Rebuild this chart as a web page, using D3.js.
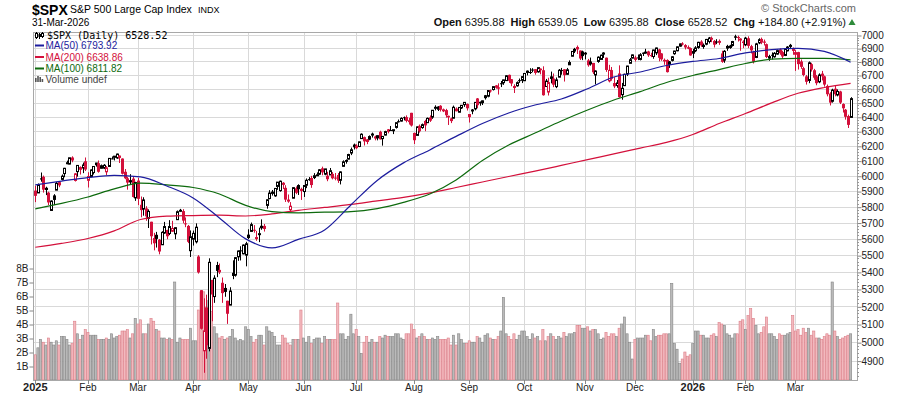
<!DOCTYPE html>
<html>
<head>
<meta charset="utf-8">
<script src="https://cdn.jsdelivr.net/npm/d3@7/dist/d3.min.js"></script>
<style>
  body { margin: 0; background: #fff; }
  #chart text { font-family: Arial, "Liberation Sans", sans-serif; }
</style>
</head>
<body>
<svg id="chart"></svg>
<script>
// month ticks along the bottom (index of first trading day of each month)
const monthLabels = ["2025", "Feb", "Mar", "Apr", "May", "Jun", "Jul", "Aug", "Sep", "Oct", "Nov", "Dec", "2026", "Feb", "Mar"];
const monthStarts = [0, 20, 39, 60, 81, 102, 122, 144, 165, 186, 209, 228, 250, 270, 289];

const priceTicks = [4900, 5000, 5100, 5200, 5300, 5400, 5500, 5600, 5700, 5800, 5900, 6000, 6100, 6200, 6300, 6400, 6500, 6600, 6700, 6800, 6900, 7000];
const volTicks = [1, 2, 3, 4, 5, 6, 7, 8];

const prevClose = 5882;

// daily candles, 2 Jan 2025 .. 31 Mar 2026
const opens = [
  5903,5888,5983,5993,5910,5890,5776,5872,5906,5958,5976,6014,6082,6077,6121,5969,6027,6057,6051,6096,
  5970,5995,6021,6073,6083,6049,6050,6026,6061,6115,6122,6118,6134,6114,6026,5983,5971,5981,5856,
  5968,5812,5785,5789,5726,5705,5604,5624,5594,5563,5635,5654,5632,5646,5630,5718,5776,5772,5695,5679,5527,
  5597,5581,5492,5293,4953,5193,4966,5353,5256,5441,5412,5336,5306,5232,5207,5395,5381,5490,5529,5508,5500,
  5625,5645,5655,5606,5630,5680,5679,5808,5852,5885,5869,5930,5903,5954,5921,5841,5781,5854,5918,5939,5904,
  5897,5938,5978,5985,5988,6005,6010,6049,6010,6000,6005,6012,5988,6005,5970,6062,6104,6110,6151,6193,
  6187,6195,6249,6259,6244,6245,6274,6256,6254,6296,6249,6273,6313,6308,6307,6326,6369,6370,6397,6398,6376,6428,
  6288,6271,6337,6325,6371,6359,6396,6398,6461,6453,6478,6446,6447,6407,6389,6390,6458,6432,6463,6486,6490,
  6401,6446,6456,6530,6506,6500,6553,6546,6588,6594,6624,6610,6640,6644,6659,6701,6669,6620,6621,6662,6661,
  6658,6732,6722,6740,6743,6723,6747,6735,6616,6576,6690,6674,6615,6684,6736,6742,6705,6775,6839,6878,6909,6882,6875,
  6866,6808,6782,6789,6700,6800,6815,6867,6828,6657,6736,6641,6623,6711,6557,6622,6707,6786,6825,
  6830,6830,6815,6866,6867,6875,6848,6837,6864,6890,6860,6812,6811,6800,6808,6858,6880,6915,6935,6923,6907,6900,
  6878,6880,6905,6950,6912,6930,6950,6978,6955,6950,6955,6860,6810,6900,6905,6920,6990,6985,6965,6950,
  6925,6975,6915,6870,6830,6940,6970,6950,6930,6825,6850,6835,6855,6890,6870,6845,6880,6925,6900,
  6870,6870,6800,6750,6690,6660,6780,6735,6690,6650,6710,6690,6620,6565,6510,6600,6555,6580,6490,6450,6405,6395.88
];
const highs = [
  5935,5949,6021,6001,5928,5896,5840,5880,5960,5962,6008,6052,6100,6119,6129,6018,6070,6062,6087,6121,
  6023,6042,6063,6085,6101,6074,6077,6064,6116,6128,6130,6147,6134,6115,6044,5993,6010,5993,5960,
  5986,5865,5860,5803,5783,5705,5636,5642,5598,5646,5704,5655,5715,5711,5670,5776,5786,5784,5732,5685,5651,
  5650,5695,5500,5293,5246,5267,5481,5353,5380,5460,5450,5367,5329,5232,5310,5469,5489,5528,5554,5565,5581,
  5658,5700,5684,5648,5668,5720,5691,5847,5906,5907,5920,5959,5968,5958,5938,5878,5829,5924,5930,5944,5922,
  5937,5982,5991,5999,6017,6022,6044,6060,6045,6026,6051,6024,6018,6018,6029,6102,6108,6146,6188,6215,
  6211,6228,6285,6263,6246,6271,6290,6269,6272,6303,6267,6303,6315,6336,6310,6360,6381,6396,6402,6410,6393,6428,
  6290,6332,6346,6353,6379,6395,6410,6446,6481,6475,6482,6458,6456,6408,6394,6479,6466,6469,6482,6502,6494,
  6416,6455,6502,6533,6508,6515,6555,6587,6593,6616,6627,6639,6656,6666,6699,6703,6670,6632,6653,6674,6690,
  6714,6733,6750,6750,6744,6754,6748,6764,6671,6680,6725,6711,6682,6744,6752,6743,6752,6808,6876,6902,6920,6882,6881,
  6870,6819,6829,6789,6734,6838,6851,6869,6829,6775,6759,6684,6663,6771,6642,6710,6768,6826,6852,
  6843,6852,6862,6867,6895,6880,6865,6888,6904,6895,6862,6822,6816,6803,6840,6880,6912,6935,6945,6930,6920,6905,
  6895,6915,6948,6960,6935,6970,6985,6988,6962,6968,6966,6880,6885,6925,6925,6955,7002,6995,6975,6960,
  6985,6990,6925,6880,6940,6975,6980,6965,6935,6850,6868,6870,6890,6898,6880,6895,6915,6932,6905,
  6885,6872,6815,6760,6700,6800,6790,6745,6700,6712,6730,6695,6630,6575,6600,6620,6595,6585,6495,6455,6415,6539.05
];
const lows = [
  5829,5888,5961,5890,5874,5810,5773,5810,5906,5925,5969,5990,6076,6075,6089,5962,5994,6008,6017,6031,
  5923,5990,6008,6060,6020,6048,6044,6004,6059,6109,6101,6112,6084,6008,5977,5909,5944,5858,5837,
  5810,5733,5743,5711,5666,5565,5529,5546,5505,5563,5630,5597,5622,5641,5597,5718,5766,5695,5671,5573,5489,
  5558,5571,5390,5070,4835,4910,4950,5116,5220,5369,5387,5220,5255,5101,5207,5357,5372,5466,5468,5505,5433,
  5598,5643,5637,5587,5579,5655,5644,5787,5847,5871,5863,5908,5896,5913,5830,5825,5767,5854,5880,5875,5843,
  5862,5919,5967,5921,5978,6000,6004,6003,6003,5964,6005,5976,5970,5953,5943,6060,6080,6108,6137,6175,
  6177,6191,6249,6202,6211,6238,6256,6237,6237,6243,6201,6271,6285,6303,6280,6318,6360,6367,6375,6361,6346,6332,
  6212,6271,6290,6317,6300,6359,6364,6386,6445,6441,6437,6433,6394,6343,6356,6389,6438,6432,6455,6470,6444,
  6360,6418,6445,6460,6478,6483,6522,6538,6572,6587,6600,6558,6612,6628,6657,6642,6618,6569,6615,6642,6641,
  6657,6697,6707,6720,6702,6717,6705,6550,6612,6551,6639,6611,6604,6683,6702,6652,6702,6774,6838,6863,6856,6811,6810,
  6815,6761,6769,6707,6631,6790,6813,6826,6723,6646,6658,6604,6607,6535,6521,6620,6692,6786,6823,
  6799,6810,6808,6841,6858,6834,6832,6820,6848,6801,6805,6775,6718,6752,6800,6850,6876,6910,6920,6890,6892,6843,
  6825,6870,6895,6910,6895,6922,6935,6945,6905,6930,6925,6790,6790,6880,6895,6912,6960,6950,6880,6900,
  6915,6900,6860,6785,6825,6930,6930,6920,6825,6805,6815,6828,6850,6850,6820,6840,6875,6898,6850,
  6730,6740,6745,6690,6630,6640,6725,6665,6625,6640,6660,6615,6545,6480,6500,6545,6545,6490,6430,6380,6322,6395.88
];
const closes = [
  5869,5942,5975,5909,5918,5827,5836,5843,5950,5937,5997,6049,6086,6119,6101,6012,6068,6039,6071,6041,
  5995,6038,6061,6084,6026,6066,6069,6052,6115,6115,6130,6144,6118,6013,5983,5955,5956,5862,5955,
  5850,5778,5843,5739,5770,5615,5572,5599,5522,5639,5675,5615,5675,5663,5668,5768,5777,5712,5693,5581,5612,
  5633,5671,5397,5074,5062,4983,5457,5268,5363,5406,5397,5276,5283,5158,5288,5376,5485,5525,5529,5561,5569,
  5604,5687,5650,5607,5631,5664,5660,5844,5887,5893,5917,5958,5964,5940,5845,5842,5803,5922,5889,5912,5911,
  5936,5970,5971,5939,6000,6006,6039,6022,6045,5977,6033,5983,5981,5968,6025,6092,6092,6141,6173,6205,
  6198,6227,6279,6230,6226,6263,6280,6260,6269,6244,6264,6297,6296,6306,6310,6359,6363,6389,6390,6371,6363,6339,
  6238,6330,6299,6345,6340,6389,6373,6446,6467,6469,6450,6449,6411,6396,6370,6467,6439,6466,6481,6502,6460,
  6416,6448,6502,6482,6495,6513,6532,6587,6584,6615,6607,6600,6632,6664,6694,6657,6638,6605,6644,6661,6688,
  6711,6715,6716,6740,6715,6754,6735,6553,6655,6644,6671,6629,6664,6735,6736,6699,6738,6792,6875,6891,6890,6822,6840,
  6852,6772,6796,6720,6729,6832,6847,6851,6737,6734,6672,6617,6642,6539,6603,6705,6766,6813,6849,
  6812,6829,6850,6857,6870,6846,6840,6886,6901,6827,6816,6800,6721,6775,6835,6878,6910,6932,6930,6905,6896,6845,
  6858,6902,6944,6921,6921,6966,6977,6964,6926,6944,6940,6797,6876,6913,6916,6950,6979,6978,6969,6939,
  6976,6917,6883,6798,6932,6964,6942,6941,6833,6836,6843,6861,6881,6862,6837,6891,6908,6909,6879,
  6850,6780,6760,6700,6650,6790,6740,6680,6640,6700,6690,6630,6560,6500,6590,6560,6580,6500,6460,6400,6343.72,6528.52
];
// volume in billions of shares
const volumes = [
  1.8,2.3,2.9,2.7,2.5,3.0,2.7,2.5,2.8,2.5,3.1,3.1,2.9,2.5,2.6,4.2,3.3,2.9,3.2,3.6,
  3.4,3.2,3.2,3.2,2.9,2.9,2.9,3.0,2.9,3.3,3.0,3.1,3.2,3.5,3.5,3.6,3.0,3.3,4.4,
  4.0,4.3,3.3,3.3,4.0,4.4,4.2,3.6,3.5,3.0,3.0,2.9,3.0,2.9,7.0,2.7,3.0,2.9,2.9,2.9,3.7,
  2.8,2.8,5.0,6.3,6.3,5.2,5.7,4.9,3.8,3.3,3.0,3.1,2.9,3.0,3.1,3.6,3.0,2.8,2.9,2.8,3.8,
  3.6,3.1,2.7,2.9,3.2,3.2,2.5,3.8,3.5,3.4,3.1,2.5,2.5,3.2,3.0,2.6,2.5,2.9,2.9,2.9,5.0,
  3.0,2.7,3.1,2.6,2.9,3.0,3.0,2.6,3.1,2.9,2.9,2.9,2.9,5.5,3.3,3.3,2.9,3.1,4.7,3.3,
  3.6,3.1,1.9,2.7,3.1,2.7,2.9,2.7,2.7,3.1,3.0,3.2,3.1,3.1,3.1,3.3,3.3,3.0,2.9,3.3,3.3,4.0,
  3.6,3.0,3.1,3.3,3.1,2.9,2.9,3.0,2.9,3.1,2.9,2.9,2.9,3.0,2.5,3.2,2.5,3.3,2.9,2.6,2.6,
  2.8,2.7,2.7,3.1,3.0,2.7,3.2,3.3,3.0,2.9,2.9,3.1,3.5,5.9,3.3,3.1,2.9,3.3,2.9,3.2,3.5,
  3.5,3.1,2.9,3.3,3.0,3.1,2.8,3.6,2.8,3.1,3.3,3.1,2.9,3.1,3.0,3.4,3.1,3.3,3.3,3.4,3.9,3.9,3.7,
  3.7,3.8,3.5,3.6,3.6,3.3,2.9,3.0,3.4,3.1,3.3,3.3,3.1,3.7,4.0,4.5,3.3,2.7,1.5,
  2.9,3.0,3.0,3.0,3.2,3.2,2.8,3.6,3.1,3.2,3.2,3.3,3.3,3.3,6.9,2.6,2.2,1.2,1.5,2.0,1.7,1.8,
  2.6,3.5,3.5,3.2,3.2,3.0,3.0,3.2,3.3,3.1,4.1,4.0,3.9,3.3,3.2,3.0,3.3,3.3,4.2,4.3,
  3.6,4.6,5.1,4.4,3.9,3.3,3.4,3.8,4.5,3.3,3.3,3.1,2.9,3.3,3.2,3.2,3.3,3.4,4.6,
  3.5,3.6,3.2,3.7,3.4,3.7,3.2,3.5,3.0,3.0,2.9,3.1,3.3,3.2,7.0,3.5,3.1,2.9,3.0,3.1,3.2,3.3
];

// moving averages
const maIdx = [0,10,20,30,40,50,60,70,80,90,100,110,120,130,140,150,160,170,180,190,200,210,220,230,240,250,260,270,280,290,300,310];
const ma50 = [5940,5965,5988,6002,5992,5933,5856,5729,5599,5544,5596,5654,5811,5969,6085,6172,6264,6353,6427,6483,6526,6600,6685,6722,6770,6800,6822,6864,6889,6898,6875,6794];
const ma100 = [5786,5821,5862,5914,5951,5940,5923,5881,5808,5769,5761,5765,5769,5788,5827,5881,5972,6101,6205,6287,6371,6448,6519,6579,6645,6696,6740,6785,6817,6823,6823,6812];
const ma200 = [5548,5571,5601,5648,5719,5740,5744,5746,5741,5754,5777,5795,5814,5837,5859,5888,5923,5959,5995,6030,6068,6107,6145,6184,6223,6277,6353,6423,6498,6567,6609,6639];

const quoteLabels = ["Open", "High", "Low", "Close", "Chg"];
const quoteValues = ["6395.88", "6539.05", "6395.88", "6528.52", "+184.80 (+2.91%)"];

const chartSize = {width: 900, height: 396};
const plot = {left: 33, right: 857, top: 32, bottom: 380};

const red = "#d3103b", blue = "#1c1c9e", green = "#0d6a0d", grid = "#d9d9d9";

const x = d3.scaleLinear().domain([0, 310]).range([35.3, 850.6]);
const y = d3.scaleLog().domain([4797, 7023]).range([plot.bottom, plot.top]);
const yVol = d3.scaleLinear().domain([0, 8]).range([plot.bottom, 268]);

const svg = d3.select("#chart")
  .attr("width", chartSize.width)
  .attr("height", chartSize.height);

svg.append("rect").attr("width", chartSize.width).attr("height", chartSize.height).attr("fill", "#fff");

const days = closes.map((c, i) => ({
  i, o: opens[i], h: highs[i], l: lows[i], c, v: volumes[i],
  up: c >= (i ? closes[i - 1] : prevClose)
}));

// grid
const g = svg.append("g");
g.selectAll(".hgrid").data(priceTicks).join("line")
  .attr("x1", plot.left).attr("x2", plot.right)
  .attr("y1", d => Math.round(y(d)) + 0.5).attr("y2", d => Math.round(y(d)) + 0.5)
  .attr("stroke", grid);
g.selectAll(".vgrid").data(monthStarts).join("line")
  .attr("x1", d => Math.round(x(d)) + 0.5).attr("x2", d => Math.round(x(d)) + 0.5)
  .attr("y1", plot.top).attr("y2", plot.bottom)
  .attr("stroke", grid);

// volume
g.selectAll(".vol").data(days).join("rect")
  .attr("x", d => x(d.i) - 1.1)
  .attr("width", 2.2)
  .attr("y", d => yVol(d.v))
  .attr("height", d => plot.bottom - yVol(d.v))
  .attr("fill", d => d.up ? "#bababa" : "#f2b9be")
  .attr("stroke", d => d.up ? "#858585" : "#dc7e88")
  .attr("stroke-width", 0.6);

// candles
const cx = d => Math.round(x(d.i));
g.selectAll(".wick").data(days).join("line")
  .attr("x1", d => cx(d) + 0.5).attr("x2", d => cx(d) + 0.5)
  .attr("y1", d => y(d.h)).attr("y2", d => y(d.l))
  .attr("stroke", d => d.up ? "#000" : red)
  .attr("stroke-width", 1);

g.selectAll(".body").data(days).join("rect")
  .attr("x", d => d.c > d.o ? cx(d) - 0.5 : cx(d) - 1)
  .attr("width", d => d.c > d.o ? 2 : 3)
  .attr("y", d => y(Math.max(d.o, d.c)))
  .attr("height", d => Math.max(1, y(Math.min(d.o, d.c)) - y(Math.max(d.o, d.c))))
  .attr("fill", d => d.c > d.o ? "#fff" : (d.up ? "#000" : red))
  .attr("stroke", d => d.c > d.o ? (d.up ? "#000" : red) : "none")
  .attr("stroke-width", 1);

// moving averages
const maLine = d3.line()
  .x(d => x(d[0]))
  .y(d => y(d[1]))
  .curve(d3.curveMonotoneX);

[[ma200, red], [ma100, green], [ma50, blue]].forEach(([vals, col]) => {
  g.append("path")
    .attr("d", maLine(maIdx.map((k, j) => [k, vals[j]])))
    .attr("fill", "none")
    .attr("stroke", col)
    .attr("stroke-width", 1.2);
});

// frame
svg.append("rect")
  .attr("x", plot.left + 0.5).attr("y", plot.top + 0.5)
  .attr("width", plot.right - plot.left).attr("height", plot.bottom - plot.top)
  .attr("fill", "none").attr("stroke", "#a8a8a8");

// right price axis
const yAxis = d3.axisRight(y).tickValues(priceTicks).tickSize(4).tickFormat(d3.format("d"));
const ya = svg.append("g")
  .attr("transform", `translate(${plot.right + 0.5},0.5)`)
  .call(yAxis);
ya.select(".domain").remove();
ya.selectAll("line").attr("stroke", "#888");
ya.selectAll("text").attr("x", 4).attr("fill", "#222").style("font-size", "10px");

const minorTicks = d3.range(4820, 7020, 20).filter(v => v % 100 !== 0);
svg.append("g").selectAll("line").data(minorTicks).join("line")
  .attr("x1", plot.right).attr("x2", plot.right + 2)
  .attr("y1", d => Math.round(y(d)) + 0.5).attr("y2", d => Math.round(y(d)) + 0.5)
  .attr("stroke", "#999");

// left volume axis
const vAxis = d3.axisLeft(yVol).tickValues(volTicks).tickSize(4).tickFormat(d => d + "B");
const va = svg.append("g")
  .attr("transform", `translate(${plot.left + 0.5},0.5)`)
  .call(vAxis);
va.select(".domain").remove();
va.selectAll("line").attr("stroke", "#888");
va.selectAll("text").attr("x", -5).attr("fill", "#222").style("font-size", "10px");

// bottom month axis
const xa = svg.append("g");
xa.selectAll("line").data(monthStarts).join("line")
  .attr("x1", d => Math.round(x(d)) + 0.5).attr("x2", d => Math.round(x(d)) + 0.5)
  .attr("y1", plot.bottom).attr("y2", plot.bottom + 4)
  .attr("stroke", "#888");
xa.selectAll("text").data(monthStarts).join("text")
  .attr("x", d => x(d))
  .attr("y", 391)
  .attr("text-anchor", "middle")
  .style("font-size", (d, k) => monthLabels[k].length === 4 ? "11px" : "10px")
  .style("font-weight", (d, k) => monthLabels[k].length === 4 ? "bold" : "normal")
  .attr("fill", "#222")
  .text((d, k) => monthLabels[k]);

// header
svg.append("text").attr("x", 32).attr("y", 14.5)
  .style("font-size", "14px").style("font-weight", "bold").text("$SPX");
svg.append("text").attr("x", 70).attr("y", 12.5)
  .style("font-size", "10.5px").text("S&P 500 Large Cap Index");
svg.append("text").attr("x", 198).attr("y", 12.5)
  .style("font-size", "9px").text("INDX");
svg.append("text").attr("x", 32).attr("y", 25.5)
  .style("font-size", "10px").text("31-Mar-2026");

const quote = svg.append("text")
  .attr("x", 846).attr("y", 26)
  .attr("text-anchor", "end")
  .style("font-size", "11px").attr("fill", "#111");
quoteLabels.forEach((lab, k) => {
  quote.append("tspan").attr("dx", k ? 6 : 0).style("font-weight", "bold").text(lab);
  quote.append("tspan").text(" " + quoteValues[k]);
});
svg.append("path")
  .attr("d", d3.symbol(d3.symbolTriangle, 22)())
  .attr("transform", "translate(852,23)")
  .attr("fill", "#2e8b3a");

svg.append("text").attr("x", 856).attr("y", 12)
  .attr("text-anchor", "end")
  .style("font-size", "11px").attr("fill", "#666")
  .text("\u00A9 StockCharts.com");

// legend
const lg = svg.append("g");
lg.append("text").attr("x", 47).attr("y", 38.5)
  .style("font-family", "'DejaVu Sans Mono', monospace").style("font-size", "10px")
  .text("$SPX (Daily) 6528.52");
lg.append("line").attr("x1", 36.5).attr("x2", 36.5).attr("y1", 32).attr("y2", 39).attr("stroke", "#000");
lg.append("rect").attr("x", 35.5).attr("y", 33.5).attr("width", 2).attr("height", 4).attr("fill", "#fff").attr("stroke", "#000");
lg.append("line").attr("x1", 39.5).attr("x2", 39.5).attr("y1", 33).attr("y2", 39).attr("stroke", "#000");
lg.append("rect").attr("x", 38.5).attr("y", 34).attr("width", 3).attr("height", 3).attr("fill", "#000");
lg.append("line").attr("x1", 42.5).attr("x2", 42.5).attr("y1", 32).attr("y2", 38).attr("stroke", "#000");
lg.append("rect").attr("x", 41.5).attr("y", 33.5).attr("width", 2).attr("height", 3).attr("fill", "#fff").attr("stroke", "#000");

const maLegend = [["MA(50) 6793.92", blue, 45.5], ["MA(200) 6638.86", red, 57], ["MA(100) 6811.82", green, 68.5]];
maLegend.forEach(([label, col, ly]) => {
  lg.append("line").attr("x1", 35).attr("x2", 44).attr("y1", ly).attr("y2", ly)
    .attr("stroke", col).attr("stroke-width", 2);
  lg.append("text").attr("x", 45.5).attr("y", ly + 3.5)
    .style("font-size", "10px").attr("fill", col).text(label);
});
[4, 6, 5, 3].forEach((h, k) => {
  lg.append("rect").attr("x", 35 + k * 2.2).attr("y", 82 - h).attr("width", 1.6).attr("height", h).attr("fill", "#555");
});
lg.append("text").attr("x", 45.5).attr("y", 82.5)
  .style("font-size", "10px").attr("fill", "#444").text("Volume undef");
</script>
</body>
</html>
